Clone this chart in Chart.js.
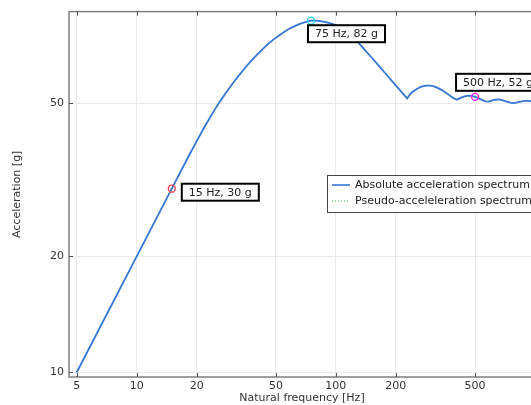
<!DOCTYPE html>
<html>
<head>
<meta charset="utf-8">
<script src="https://cdn.jsdelivr.net/npm/chart.js@4.4.1/dist/chart.umd.min.js"></script>
<style>
  html, body { margin: 0; padding: 0; overflow: hidden; background: #fff; }
  canvas { display: block; }
</style>
</head>
<body>
<canvas id="myChart" width="545" height="405"></canvas>
<script>
// natural frequency [Hz]
const frequency = [5, 10, 15, 18, 20, 22, 24, 26, 28, 30, 32, 34, 36, 38, 40, 43, 46, 50, 54, 58, 62, 66, 70, 75,
    80, 85, 90, 95, 100, 106, 112, 119, 125, 132, 140, 150, 160, 167, 178, 190, 203, 215, 228,
    234, 240, 248, 256, 265, 275, 285, 295, 305, 318, 330, 345, 360, 375, 390, 405,
    418, 432, 448, 465, 482, 500, 520, 545, 565, 585, 605, 630, 656, 685, 715, 750, 781, 815, 860, 912, 960, 1000];
// acceleration [g]
const absoluteAccel = [10, 20, 30, 36, 39.9, 43.6, 47.1, 50.3, 53.2, 55.9, 58.4, 60.7, 62.9, 64.9, 66.7, 69.3, 71.6, 74.1, 76.2, 78, 79.4, 80.5, 81.3, 82,
    82, 81.7, 81.2, 80.6, 79.9, 78.8, 77.5, 75.6, 73.6, 71.2, 68.8, 66.1, 63.6, 62, 59.7, 57.4, 55.2, 53.3, 51.5,
    52.5, 53.3, 54, 54.6, 55.1, 55.4, 55.6, 55.6, 55.5, 55.1, 54.6, 53.9, 53.1, 52.3, 51.6, 51.1,
    51.5, 51.9, 52.2, 52.4, 52.3, 52, 51.6, 51, 50.6, 50.5, 50.8, 51.1, 51.2, 51, 50.6, 50.2, 50.1, 50.3, 50.6, 50.8, 50.6, 50.3];
const pseudoAccel = [10, 20, 30, 36, 39.9, 43.6, 47.1, 50.3, 53.2, 55.9, 58.4, 60.7, 62.9, 64.9, 66.7, 69.3, 71.6, 74.1, 76.2, 78, 79.4, 80.5, 81.3, 82,
    82, 81.7, 81.2, 80.6, 79.9, 78.8, 77.5, 75.6, 73.6, 71.2, 68.8, 66.1, 63.6, 62, 59.7, 57.4, 55.2, 53.3, 51.5,
    52.5, 53.3, 54, 54.6, 55.1, 55.4, 55.6, 55.6, 55.5, 55.1, 54.6, 53.9, 53.1, 52.3, 51.6, 51.1,
    51.5, 51.9, 52.2, 52.4, 52.3, 52, 51.6, 51, 50.6, 50.5, 50.8, 51.1, 51.2, 51, 50.6, 50.2, 50.1, 50.3, 50.6, 50.8, 50.6, 50.3];
// highlighted points
const markerFreq = [15, 75, 500];
const markerAccel = [30, 82, 52];
const xTicks = [5, 10, 20, 50, 100, 200, 500];
const yTicks = [10, 20, 50];

const FONT = "'DejaVu Sans', sans-serif";
const markerColors = ["#ff3b4a", "#18d8f0", "#ff1cf0"];
// label box offset from its marker (left, top)
const labelOffsets = [[10, -5], [-3, 4.5], [-19, -23]];

const toPoints = (xs, ys) => xs.map((x, i) => ({ x, y: ys[i] }));

const extrasPlugin = {
    id: "extras",
    afterDraw(chart) {
        const { ctx, chartArea: a, scales } = chart;
        ctx.save();
        // frame
        ctx.strokeStyle = "#7f7f7f";
        ctx.lineWidth = 1.5;
        ctx.strokeRect(a.left, a.top, a.right - a.left, a.bottom - a.top);
        // inward ticks
        ctx.lineWidth = 1;
        ctx.strokeStyle = "#555";
        ctx.beginPath();
        xTicks.forEach((t) => {
            const px = Math.round(scales.x.getPixelForValue(t)) + 0.5;
            ctx.moveTo(px, a.bottom); ctx.lineTo(px, a.bottom - 4);
            ctx.moveTo(px, a.top); ctx.lineTo(px, a.top + 4);
        });
        yTicks.forEach((t) => {
            const py = Math.round(scales.y.getPixelForValue(t)) + 0.5;
            ctx.moveTo(a.left, py); ctx.lineTo(a.left + 4, py);
        });
        ctx.stroke();

        // point labels
        ctx.font = "11px " + FONT;
        ctx.textBaseline = "middle";
        ctx.textAlign = "center";
        markerFreq.forEach((f, i) => {
            const px = scales.x.getPixelForValue(f);
            const py = scales.y.getPixelForValue(markerAccel[i]);
            const text = `${f} Hz, ${markerAccel[i]} g`;
            const w = ctx.measureText(text).width + 14;
            const h = 17;
            const bx = px + labelOffsets[i][0];
            const by = py + labelOffsets[i][1];
            ctx.fillStyle = "#fff";
            ctx.fillRect(bx, by, w, h);
            ctx.strokeStyle = "#000";
            ctx.lineWidth = 2;
            ctx.strokeRect(bx, by, w, h);
            ctx.fillStyle = "#222";
            ctx.fillText(text, bx + w / 2, by + h / 2 + 0.5);
        });

        // legend
        const lx = a.right - 208, ly = 175;
        ctx.fillStyle = "#fff";
        ctx.fillRect(lx, ly, 220, 37);
        ctx.strokeStyle = "#444";
        ctx.lineWidth = 1;
        ctx.strokeRect(lx + 0.5, ly + 0.5, 220, 37);
        ctx.textAlign = "left";
        chart.data.datasets.slice(0, 2).forEach((ds, i) => {
            const yy = ly + 10 + i * 16;
            ctx.strokeStyle = ds.borderColor;
            ctx.lineWidth = i === 0 ? 1.6 : 1;
            ctx.setLineDash(ds.borderDash || []);
            ctx.beginPath();
            ctx.moveTo(lx + 5, yy); ctx.lineTo(lx + 23, yy);
            ctx.stroke();
            ctx.setLineDash([]);
            ctx.fillStyle = "#222";
            ctx.fillText(ds.label, lx + 28, yy);
        });
        ctx.restore();
    },
};

const ctx = document.getElementById("myChart");
new Chart(ctx, {
    type: "line",
    data: {
        datasets: [
            {
                label: "Absolute acceleration spectrum",
                data: toPoints(frequency, absoluteAccel),
                borderColor: "#3777d4",
                borderWidth: 1.8,
                pointRadius: 0,
                tension: 0,
            },
            {
                label: "Pseudo-acceleleration spectrum",
                data: toPoints(frequency, pseudoAccel),
                borderColor: "#35b34a",
                borderWidth: 1,
                borderDash: [1, 2],
                pointRadius: 0,
                tension: 0,
            },
            {
                label: "markers",
                data: toPoints(markerFreq, markerAccel),
                showLine: false,
                pointRadius: 3.5,
                pointBorderWidth: 1.3,
                pointBorderColor: markerColors,
                pointBackgroundColor: "rgba(0,0,0,0)",
                order: -1,
            },
        ],
    },
    options: {
        responsive: false,
        animation: false,
        layout: { padding: { top: 9, right: 10, left: 0, bottom: 0 } },
        plugins: { legend: { display: false }, tooltip: { enabled: false } },
        scales: {
            x: {
                type: "logarithmic",
                min: 4.57,
                max: 1000,
                afterBuildTicks: (s) => { s.ticks = xTicks.map((v) => ({ value: v })); },
                afterFit: (s) => { s.height = 28; },
                ticks: { color: "#333", font: { family: FONT, size: 11 }, padding: 3, maxRotation: 0, callback: (v) => v },
                grid: { color: "#ebebeb", drawTicks: false },
                border: { display: false },
                title: { display: true, text: "Natural frequency [Hz]", color: "#333", font: { family: FONT, size: 11 }, padding: { top: 0, bottom: 0 } },
            },
            y: {
                type: "logarithmic",
                min: 9.72,
                max: 86.6,
                afterBuildTicks: (s) => { s.ticks = yTicks.map((v) => ({ value: v })); },
                afterFit: (s) => { s.width = 69; },
                ticks: { color: "#333", font: { family: FONT, size: 11 }, padding: 5, callback: (v) => v },
                grid: { color: "#ebebeb", drawTicks: false },
                border: { display: false },
                title: { display: true, text: "Acceleration [g]", color: "#333", font: { family: FONT, size: 11 }, padding: { top: 11, bottom: 0 } },
            },
        },
    },
    plugins: [extrasPlugin],
});
</script>
</body>
</html>
